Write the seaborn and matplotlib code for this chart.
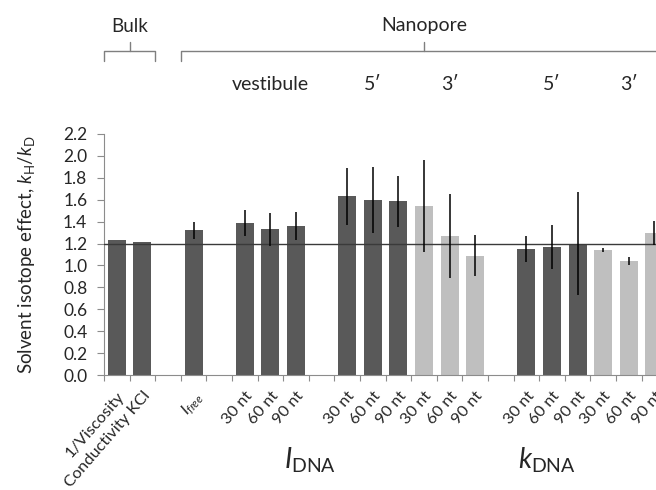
import matplotlib
matplotlib.use("Agg")
import matplotlib.pyplot as plt
import matplotlib.transforms as mtransforms
import numpy as np
import pandas as pd
import seaborn as sns

# ── Data ──────────────────────────────────────────────────────────────
bulk_labels = ["1/Viscosity", "Conductivity KCl"]
bulk_values = [1.23, 1.21]
bulk_errors = [0.0, 0.0]

free_labels = ["$I_{free}$"]
free_values = [1.32]
free_errors = [0.08]

nt_labels = ["30 nt", "60 nt", "90 nt"]

vest_values = [1.39, 1.33, 1.36]
vest_errors = [0.12, 0.15, 0.125]

idna5_values = [1.63, 1.595, 1.585]
idna5_errors = [0.26, 0.30, 0.23]
idna3_values = [1.54, 1.27, 1.09]
idna3_errors = [0.42, 0.38, 0.19]

kdna5_values = [1.15, 1.165, 1.20]
kdna5_errors = [0.12, 0.20, 0.47]
kdna3_values = [1.14, 1.04, 1.30]
kdna3_errors = [0.02, 0.04, 0.11]

reference_level = 1.2

# segments in drawing order; None means an empty slot
segments = [
    (bulk_labels, bulk_values, bulk_errors, "dark"),
    None,
    (free_labels, free_values, free_errors, "dark"),
    None,
    (nt_labels, vest_values, vest_errors, "dark"),
    None,
    (nt_labels, idna5_values, idna5_errors, "dark"),
    (nt_labels, idna3_values, idna3_errors, "light"),
    None,
    (nt_labels, kdna5_values, kdna5_errors, "dark"),
    (nt_labels, kdna3_values, kdna3_errors, "light"),
]

rows = []
slot = 0
for seg in segments:
    if seg is None:
        slot += 1
        continue
    labels, values, errors, shade = seg
    for lab, val, err in zip(labels, values, errors):
        rows.append({"slot": slot, "label": lab, "value": val, "err": err, "shade": shade})
        slot += 1
n_slots = slot
df = pd.DataFrame(rows)

# ── Style ─────────────────────────────────────────────────────────────
sns.set_theme(style="white")
plt.rcParams["font.family"] = ["Lato", "DejaVu Sans"]
plt.rcParams["mathtext.fontset"] = "custom"
plt.rcParams["mathtext.rm"] = "Lato"
plt.rcParams["mathtext.it"] = "Lato:italic"

DARK = "#595959"
LIGHT = "#bfbfbf"
AXIS = "#8c8c8c"

W, H = 656, 490
fig = plt.figure(figsize=(W / 100, H / 100), dpi=100)
ax_left, ax_right, ax_top, ax_bottom = 104, 104 + 25.6 * n_slots, 134, 375
ax = fig.add_axes([ax_left / W, 1 - ax_bottom / H,
                   (ax_right - ax_left) / W, (ax_bottom - ax_top) / H])

sns.barplot(
    data=df, x="slot", y="value", hue="shade",
    palette={"dark": DARK, "light": LIGHT},
    native_scale=True, dodge=False, width=0.7,
    errorbar=None, legend=False, linewidth=0, ax=ax,
)

eb = df[df["err"] > 0]
ax.errorbar(eb["slot"], eb["value"], yerr=eb["err"], fmt="none",
            ecolor="black", elinewidth=1.1, capsize=0, zorder=5)
ax.axhline(reference_level, color="#3a3a3a", lw=1.0, zorder=4)

ax.set_xlim(-0.5, n_slots - 0.5)
ax.set_ylim(0, 2.2)
ax.set_yticks(np.arange(0, 2.21, 0.2))
ax.set_yticklabels([f"{v:.1f}" for v in np.arange(0, 2.21, 0.2)], fontsize=12.5)

ax.set_xticks(df["slot"])
ax.set_xticklabels(df["label"], rotation=49, ha="right",
                   rotation_mode="anchor", fontsize=11.8)
ax.set_xticks(np.arange(-0.5, n_slots), minor=True)
ax.tick_params(axis="x", which="major", length=0, pad=10)
ax.tick_params(axis="x", which="minor", length=4, color=AXIS, width=0.8,
               direction="out", bottom=True)
ax.tick_params(axis="y", length=5, color=AXIS, width=0.8, direction="out",
               left=True, pad=7)

for side in ["top", "right"]:
    ax.spines[side].set_visible(False)
for side in ["left", "bottom"]:
    ax.spines[side].set_color(AXIS)
    ax.spines[side].set_linewidth(0.8)

ax.set_xlabel("")
ax.set_ylabel(r"Solvent isotope effect, $k_{\mathrm{H}}/k_{\mathrm{D}}$",
              fontsize=13.5, labelpad=19)

# ── Annotations above / below ─────────────────────────────────────────
tr = mtransforms.blended_transform_factory(ax.transData, fig.transFigure)


def fy(ypix):
    return 1 - ypix / H


def bracket(x0, x1, xm):
    kw = dict(color="#7f7f7f", lw=1.0, transform=tr, clip_on=False)
    ax.plot([x0, x0, x1, x1], [fy(61), fy(51), fy(51), fy(61)], **kw)
    ax.plot([xm, xm], [fy(51), fy(42)], **kw)


bracket(-0.5, 1.5, 0.5)
bracket(2.5, n_slots - 0.5, 12.0)

ax.text(0.5, fy(26), "Bulk", ha="center", va="center", fontsize=13.5, transform=tr)
ax.text(12.0, fy(25), "Nanopore", ha="center", va="center", fontsize=14, transform=tr)
ax.text(6, fy(85), "vestibule", ha="center", va="center", fontsize=14, transform=tr)
for xs, txt in [(10, "5′"), (13, "3′"), (17, "5′"), (20, "3′")]:
    ax.text(xs, fy(85), txt, ha="center", va="center", fontsize=14, transform=tr)

ax.text(7.55, fy(460), r"$I_{\mathrm{DNA}}$", ha="center", va="center",
        fontsize=20, transform=tr)
ax.text(16.8, fy(460), r"$k_{\mathrm{DNA}}$", ha="center", va="center",
        fontsize=20, transform=tr)

fig.savefig("out.png", dpi=100)
